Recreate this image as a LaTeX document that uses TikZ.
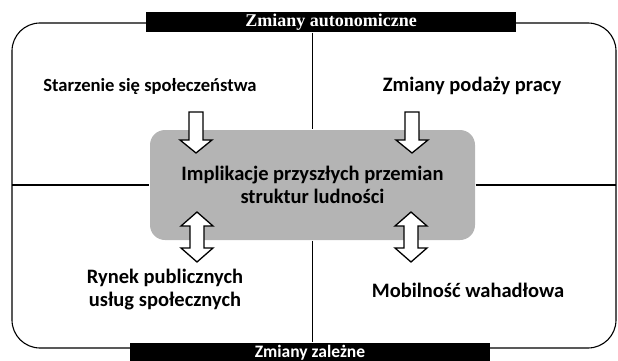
\documentclass[tikz,border=0pt]{standalone}
\usepackage{fontspec}
\setmainfont{Carlito}
\newfontfamily\barserif{Liberation Serif}
\usetikzlibrary{positioning}
\definecolor{boxgray}{RGB}{180,180,180}

\begin{document}
\begin{tikzpicture}[x=1pt,y=-1pt,line width=1.1pt,
    lbl/.style={font=\bfseries\fontsize{20.5}{23}\selectfont,align=center},
    bar/.style={fill=black,text=white,minimum height=20pt,inner sep=0pt},
    downarr/.pic={\draw[fill=white,line width=1.3pt] (-7,0) -- (7,0) -- (7,28) -- (16,28) -- (0,41) -- (-16,28) -- (-7,28) -- cycle;},
    botharr/.pic={\draw[fill=white,line width=1.3pt] (0,0) -- (16,14) -- (7,14) -- (7,36) -- (16,36) -- (0,50) -- (-16,36) -- (-7,36) -- (-7,14) -- (-16,14) -- cycle;}]

        \useasboundingbox (0,0) rectangle (618,361);

        % outer frame
        \draw[rounded corners=28pt] (12,23) rectangle (616,348);

        \node[bar,minimum width=370pt,font=\barserif\bfseries\fontsize{18}{20}\selectfont] (topbar) at (331,22) {Zmiany autonomiczne};
        \node[bar,minimum width=360pt,font=\bfseries\fontsize{17.5}{19}\selectfont] (botbar) at (310,353) {Zmiany zależne};

        \node[fill=boxgray,rounded corners=15pt,minimum width=325pt,minimum height=110pt,lbl] (impl) at (312.5,185) {Implikacje przyszłych przemian\\struktur ludności};

        \coordinate (L) at (12,185);
        \coordinate (R) at (616,185);
        \draw (topbar.south -| impl.north) -- (impl.north);
        \draw (impl.south) -- (botbar.north -| impl.south);
        \draw (L) -- (impl.west);
        \draw (impl.east) -- (R);

        \node[lbl,font=\bfseries\fontsize{18.6}{22}\selectfont] (ageing) at (150,86) {Starzenie się społeczeństwa};
        \node[lbl] (labour) at (472,86) {Zmiany podaży pracy};
        \node[lbl] (market) at (165,290) {Rynek publicznych\\usług społecznych};
        \node[lbl] (commute) at (468,290) {Mobilność wahadłowa};

        \pic at (196,112) {downarr};
        \pic at (412,112) {downarr};
        \pic at (197,212) {botharr};
        \pic at (411,212) {botharr};
      \end{tikzpicture}
\end{document}
